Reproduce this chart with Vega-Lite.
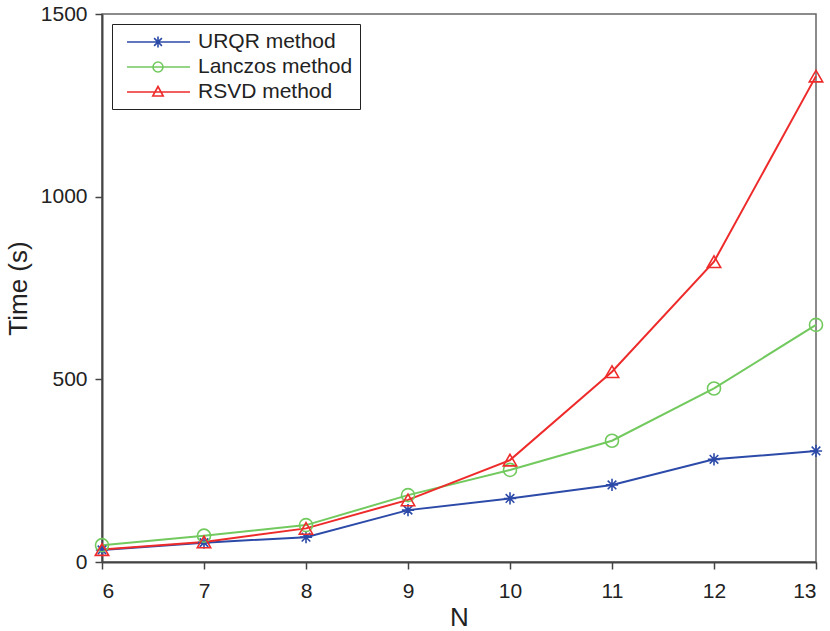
{
  "$schema": "https://vega.github.io/schema/vega-lite/v6.json",
  "width": 714,
  "height": 548,
  "autosize": {"type": "none"},
  "padding": {"left": 102, "top": 14, "right": 14, "bottom": 69},
  "background": "white",
  "config": {
    "font": "Liberation Sans",
    "view": {"stroke": "#666", "strokeWidth": 1.5},
    "axis": {
      "domainColor": "#444", "domainWidth": 2, "tickColor": "#444", "tickWidth": 1.5, "tickSize": 7,
      "labelFontSize": 21, "labelColor": "#222", "titleFontSize": 26, "titleFontWeight": "normal", "titleColor": "#222",
      "grid": false
    }
  },
  "data": {
    "values": [
      {"N": 6, "method": "URQR method", "time": 33},
      {"N": 7, "method": "URQR method", "time": 53},
      {"N": 8, "method": "URQR method", "time": 68},
      {"N": 9, "method": "URQR method", "time": 142},
      {"N": 10, "method": "URQR method", "time": 174},
      {"N": 11, "method": "URQR method", "time": 211},
      {"N": 12, "method": "URQR method", "time": 281},
      {"N": 13, "method": "URQR method", "time": 304},
      {"N": 6, "method": "Lanczos method", "time": 46},
      {"N": 7, "method": "Lanczos method", "time": 72},
      {"N": 8, "method": "Lanczos method", "time": 101},
      {"N": 9, "method": "Lanczos method", "time": 183},
      {"N": 10, "method": "Lanczos method", "time": 252},
      {"N": 11, "method": "Lanczos method", "time": 332},
      {"N": 12, "method": "Lanczos method", "time": 475},
      {"N": 13, "method": "Lanczos method", "time": 649},
      {"N": 6, "method": "RSVD method", "time": 34},
      {"N": 7, "method": "RSVD method", "time": 55},
      {"N": 8, "method": "RSVD method", "time": 92},
      {"N": 9, "method": "RSVD method", "time": 170},
      {"N": 10, "method": "RSVD method", "time": 279},
      {"N": 11, "method": "RSVD method", "time": 521},
      {"N": 12, "method": "RSVD method", "time": 822},
      {"N": 13, "method": "RSVD method", "time": 1330}
    ]
  },
  "encoding": {
    "x": {"field": "N", "type": "quantitative", "scale": {"domain": [6, 13], "nice": false, "zero": false},
          "axis": {"values": [6, 7, 8, 9, 10, 11, 12, 13], "labelPadding": 11, "titlePadding": 3, "title": "N"}},
    "y": {"field": "time", "type": "quantitative", "scale": {"domain": [0, 1500], "nice": false},
          "axis": {"values": [0, 500, 1000, 1500], "format": "d", "labelPadding": 8, "titlePadding": 9, "title": "Time (s)"}}
  },
  "layer": [
    {
      "mark": {"type": "line", "strokeWidth": 2},
      "encoding": {
        "color": {"field": "method", "type": "nominal",
          "scale": {"domain": ["URQR method", "Lanczos method", "RSVD method"], "range": ["#2c4aa8", "#72c95e", "#ee2b2b"]},
          "legend": {
            "title": null, "orient": "top-left", "offset": 10, "padding": 7,
            "strokeColor": "#222", "fillColor": "white",
            "labelFontSize": 21, "labelColor": "#222", "labelOffset": 57, "labelLimit": 400,
            "symbolSize": 400, "symbolStrokeWidth": 1.6, "symbolFillColor": "transparent",
            "rowPadding": 4,
            "encode": {
              "symbols": {
                "update": {
                  "fill": {"value": "transparent"},
                  "shape": {"signal": "datum.value == 'URQR method' ? 'M-0.3,0H6M2.25,0H3.35M2.8,-0.55V0.55M2.41,-0.39L3.19,0.39M2.41,0.39L3.19,-0.39' : (datum.value == 'Lanczos method' ? 'M-0.3,0H6M3.3,0A0.5,0.5,0,1,1,2.3,0A0.5,0.5,0,1,1,3.3,0' : 'M-0.3,0H6M2.8,-0.55L3.32,0.4L2.28,0.4Z')"}
                }
              }
            }
          }
        }
      }
    },
    {
      "transform": [{"filter": "datum.method == 'URQR method'"}],
      "mark": {"type": "point", "filled": false, "strokeWidth": 1.6, "size": 150, "opacity": 1,
               "shape": "M-1,0H1M0,-1V1M-0.7,-0.7L0.7,0.7M-0.7,0.7L0.7,-0.7", "color": "#2c4aa8"}
    },
    {
      "transform": [{"filter": "datum.method == 'Lanczos method'"}],
      "mark": {"type": "point", "filled": false, "strokeWidth": 1.6, "size": 170, "opacity": 1,
               "shape": "circle", "color": "#72c95e"}
    },
    {
      "transform": [{"filter": "datum.method == 'RSVD method'"}],
      "mark": {"type": "point", "filled": false, "strokeWidth": 1.6, "size": 180, "opacity": 1,
               "shape": "triangle-up", "color": "#ee2b2b"}
    }
  ]
}
